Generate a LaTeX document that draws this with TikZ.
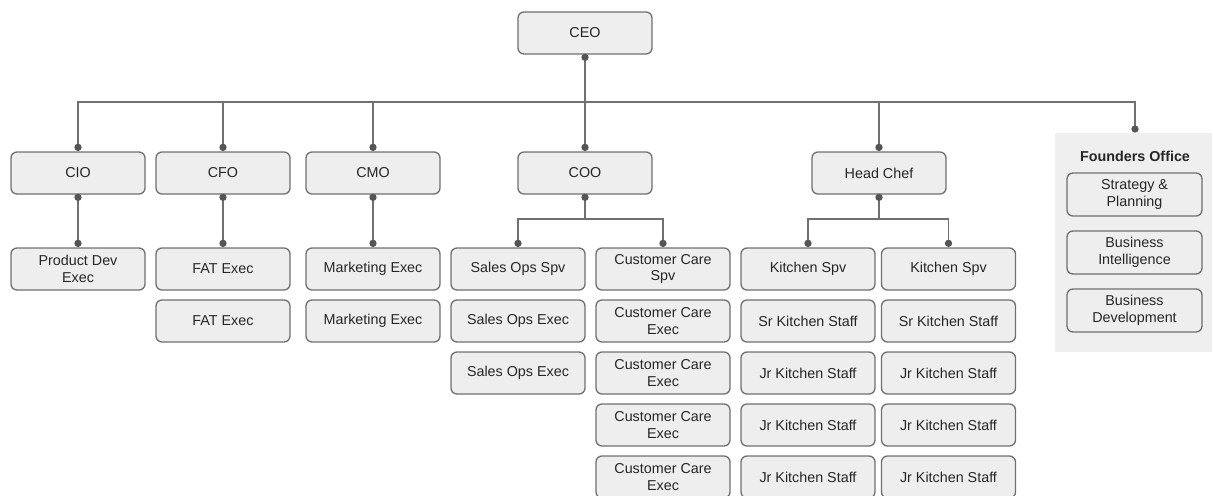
\documentclass[tikz,border=0pt]{standalone}
\usepackage{fontspec}
\setmainfont{Liberation Sans}
\usepackage{tikz}

\definecolor{boxfill}{HTML}{EEEEEE}
\definecolor{boxline}{HTML}{707070}
\definecolor{dotcol}{HTML}{555555}
\definecolor{txt}{HTML}{262626}
\definecolor{officebg}{HTML}{EFEFEF}

\tikzset{
    box/.style={draw=boxline, fill=boxfill, rounded corners=4.5pt, line width=1pt,
        minimum width=100.5pt, minimum height=31.5pt, inner sep=1pt, align=center,
        text=txt, font=\fontsize{10.75}{12.5}\selectfont},
    link/.style={draw=boxline, line width=1pt},
    dot/.style={circle, fill=dotcol, inner sep=0pt, minimum size=5.5pt},
}

\begin{document}
\begin{tikzpicture}[x=0.75pt, y=-0.75pt]
    \useasboundingbox (0,0) rectangle (1214,496);

    % founders office panel
    \node[fill=officebg, minimum width=117.75pt, minimum height=164.25pt] (office) at (1133.5,242.5) {};
    \node[font=\fontsize{10.75}{12.5}\selectfont\bfseries, text=txt] (officetitle) at (1135,156) {Founders Office};
    \node[box, minimum width=101.25pt, minimum height=32.25pt] (strategy) at (1134.5,194.5) {Strategy \&\\Planning};
    \node[box, minimum width=101.25pt, minimum height=32.25pt] (bi)       at (1134.5,252.5) {Business\\Intelligence};
    \node[box, minimum width=101.25pt, minimum height=32.25pt] (bizdev)   at (1134.5,310.5) {Business\\Development};

    % top levels
    \node[box] (ceo)  at (585,33)  {CEO};
    \node[box] (cio)  at (78,173)  {CIO};
    \node[box] (cfo)  at (223,173) {CFO};
    \node[box] (cmo)  at (373,173) {CMO};
    \node[box] (coo)  at (585,173) {COO};
    \node[box] (chef) at (879,173) {Head Chef};

    % CIO, CFO, CMO teams
    \node[box] (pde)   at (78,269)  {Product Dev\\Exec};
    \node[box] (fat1)  at (223,269) {FAT Exec};
    \node[box] (fat2)  at (223,321) {FAT Exec};
    \node[box] (mkt1)  at (373,269) {Marketing Exec};
    \node[box] (mkt2)  at (373,321) {Marketing Exec};

    % COO teams
    \node[box] (sospv) at (518,269) {Sales Ops Spv};
    \node[box] (soe1)  at (518,321) {Sales Ops Exec};
    \node[box] (soe2)  at (518,373) {Sales Ops Exec};
    \node[box] (ccspv) at (663,269) {Customer Care\\Spv};
    \node[box] (cce1)  at (663,321) {Customer Care\\Exec};
    \node[box] (cce2)  at (663,373) {Customer Care\\Exec};
    \node[box] (cce3)  at (663,425) {Customer Care\\Exec};
    \node[box] (cce4)  at (663,477) {Customer Care\\Exec};

    % kitchen teams
    \node[box] (kspva) at (808,269) {Kitchen Spv};
    \node[box] (ksra)  at (808,321) {Sr Kitchen Staff};
    \node[box] (kjra1) at (808,373) {Jr Kitchen Staff};
    \node[box] (kjra2) at (808,425) {Jr Kitchen Staff};
    \node[box] (kjra3) at (808,477) {Jr Kitchen Staff};
    \node[box] (kspvb) at (948.5,269) {Kitchen Spv};
    \node[box] (ksrb)  at (948.5,321) {Sr Kitchen Staff};
    \node[box] (kjrb1) at (948.5,373) {Jr Kitchen Staff};
    \node[box] (kjrb2) at (948.5,425) {Jr Kitchen Staff};
    \node[box] (kjrb3) at (948.5,477) {Jr Kitchen Staff};

    % connectors
    \coordinate (bus)     at (585,102);
    \coordinate (coobus)  at (585,219);
    \coordinate (chefbus) at (879,219);
    \coordinate (officetop) at (1135,129);

    \draw[link] (ceo.south) -- (bus);
    \foreach \n in {cio,cfo,cmo,coo,chef} {
        \draw[link] (bus) -| (\n.north);
        \node[dot] at ([yshift=3pt]\n.north) {};
    }
    \draw[link] (bus) -| (officetop);
    \node[dot] at (officetop) {};
    \node[dot] at ([yshift=-2pt]ceo.south) {};

    \draw[link] (cio.south) -- (pde.north);
    \draw[link] (cfo.south) -- (fat1.north);
    \draw[link] (cmo.south) -- (mkt1.north);
    \draw[link] (coo.south) -- (coobus) -| (sospv.north);
    \draw[link] (coobus) -| (ccspv.north);
    \draw[link] (chef.south) -- (chefbus) -| (kspva.north);
    \draw[link] (chefbus) -| (kspvb.north);
    \foreach \n in {cio,cfo,cmo,coo,chef}
        \node[dot] at ([yshift=-2pt]\n.south) {};
    \foreach \n in {pde,fat1,mkt1,sospv,ccspv,kspva,kspvb}
        \node[dot] at ([yshift=3pt]\n.north) {};
\end{tikzpicture}
\end{document}
